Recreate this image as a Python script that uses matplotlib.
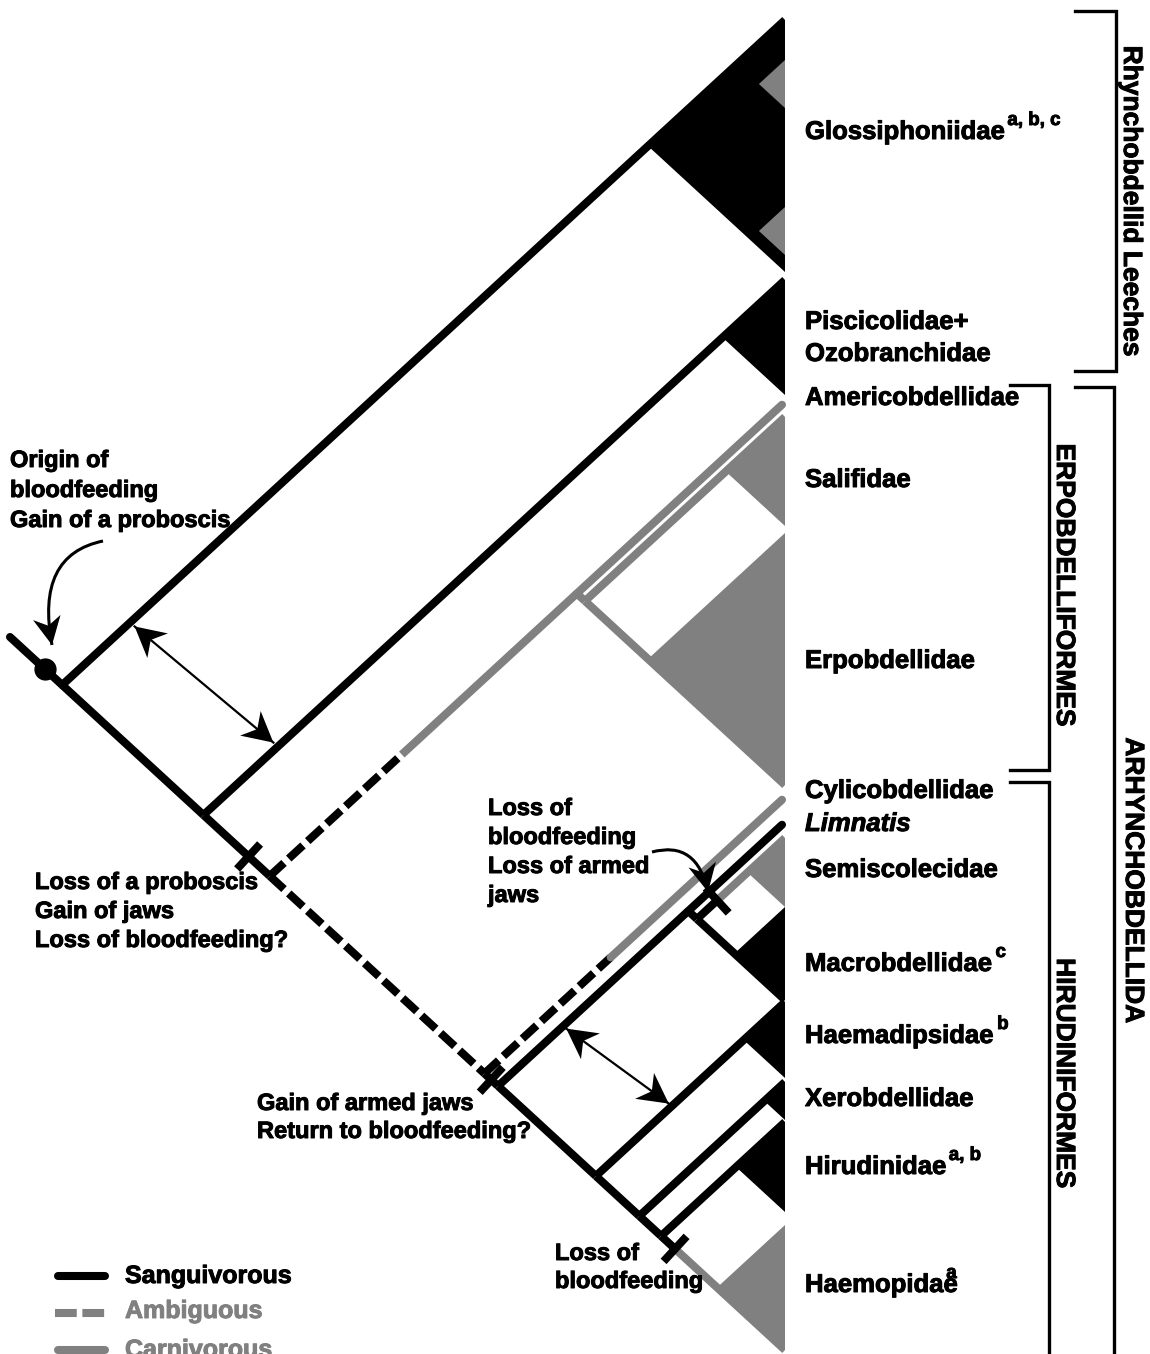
import numpy as np
import matplotlib
matplotlib.use('Agg')
import matplotlib.pyplot as plt
import matplotlib.patheffects as pe
from matplotlib.patches import Polygon, PathPatch, Rectangle
from matplotlib.path import Path

plt.rcParams['font.family'] = ['Liberation Sans', 'DejaVu Sans']
plt.rcParams['font.weight'] = 'bold'

# collapsed clades, top to bottom; span = vertical extent on the tip line
tip_names = ['Glossiphoniidae', 'Piscicolidae+\nOzobranchidae', 'Americobdellidae', 'Salifidae',
             'Erpobdellidae', 'Cylicobdellidae', 'Limnatis', 'Semiscolecidae', 'Macrobdellidae',
             'Haemadipsidae', 'Xerobdellidae', 'Hirudinidae', 'Haemopidae']
tip_sup = ['a, b, c', '', '', '', '', '', '', '', 'c', 'b', '', 'a, b', 'a']
tip_top = [20, 280, 402, 417, 533, 797, 822, 838, 907, 1002, 1082, 1122, 1225]
tip_bot = [272, 395, 402, 526, 785, 797, 822, 907, 1000, 1078, 1120, 1212, 1350]
tip_diet = ['S', 'S', 'C', 'C', 'C', 'C', 'S', 'C', 'S', 'S', 'S', 'S', 'C']
label_base = [139, 329, 405, 487, 668, 798, 831, 877, 971, 1043, 1106, 1174, 1292]

# carnivorous lineages nested in Glossiphoniidae
glos_sub_top = [60, 207]
glos_sub_bot = [108, 255]

tree = (0, (1, ((2, (3, 4)), (5, ((6, (7, 8)), (9, (10, (11, 12))))))))

# stems keyed by (first, last) tip of the clade above them
dashed_until = {(2, 4): 0.43, (5, 12): 1.0, (5, 5): 0.42}   # ambiguous part
tick_at = {(2, 12): 0.68, (6, 12): 0.5, (7, 7): 0.4, (12, 12): 0.25}

legend_labels = ['Sanguivorous', 'Ambiguous', 'Carnivorous']

X_TIP = 785
K = 0.92
LW = 5.8
BLACK, GREY = 'black', '#808080'

fig = plt.figure(figsize=(11.5, 13.54), dpi=100)
ax = fig.add_axes([0, 0, 1, 1])
ax.set_xlim(0, 1150)
ax.set_ylim(1354, 0)
ax.axis('off')

clip = Rectangle((0, 0), X_TIP, 1354, transform=ax.transData, fc='none', ec='none')
ax.add_patch(clip)


def bold(color):
    return [pe.withStroke(linewidth=0.7, foreground=color)]


def leaves(t):
    return [t] if isinstance(t, int) else leaves(t[0]) + leaves(t[1])


def node_xy(t):
    lv = leaves(t)
    top, bot = tip_top[lv[0]], tip_bot[lv[-1]]
    return X_TIP - (bot - top) / (2 * K), (top + bot) / 2


def colour(t):
    return GREY if all(tip_diet[i] == 'C' for i in leaves(t)) else BLACK


def tick(x, y, dx, dy, length=34):
    n = np.array([-dy, dx]) / np.hypot(dx, dy) * length / 2
    ax.plot([x - n[0], x + n[0]], [y - n[1], y + n[1]], color=BLACK, lw=LW,
            solid_capstyle='butt', zorder=4)


def draw_stem(p, child, upper):
    lv = leaves(child)
    key = (lv[0], lv[-1])
    px, py = p
    cx, cy = node_xy(child)
    if isinstance(child, int):
        ex, ey = X_TIP, (tip_top[child] if upper else tip_bot[child])
        cap = 'round' if tip_top[child] == tip_bot[child] else 'butt'
    else:
        ex, ey = cx, cy
        cap = 'butt'
    x0, y0 = px, py
    if key in dashed_until:
        f = dashed_until[key]
        xm, ym = px + f * (cx - px), py + f * (cy - py)
        ax.plot([x0, xm], [y0, ym], color=BLACK, lw=LW, ls=(0, (2.4, 0.8)),
                dash_capstyle='butt', zorder=2)
        if f >= 1:
            return
        x0, y0 = xm, ym
    if key in tick_at:
        f = tick_at[key]
        xm, ym = px + f * (cx - px), py + f * (cy - py)
        ax.plot([x0, xm], [y0, ym], color=BLACK, lw=LW, solid_capstyle='butt', zorder=2)
        tick(xm, ym, cx - px, cy - py)
        x0, y0 = xm, ym
    if cap == 'round':
        # single terminal: stop short so the rounded end meets the tip line
        ex -= 3
        ey += (3 * K if upper else -3 * K)
    ln, = ax.plot([x0, ex], [y0, ey], color=colour(child), lw=LW, solid_capstyle=cap, zorder=2)
    if cap == 'butt':
        ln.set_clip_path(clip)


def draw(t):
    if isinstance(t, int):
        if tip_top[t] != tip_bot[t]:
            cx, cy = node_xy(t)
            col = GREY if tip_diet[t] == 'C' else BLACK
            ax.add_patch(Polygon([(cx, cy), (X_TIP, tip_top[t]), (X_TIP, tip_bot[t])],
                                 closed=True, fc=col, ec='none', zorder=1))
        return
    p = node_xy(t)
    draw_stem(p, t[0], True)
    draw_stem(p, t[1], False)
    draw(t[0])
    draw(t[1])


draw(tree)

for top, bot in zip(glos_sub_top, glos_sub_bot):
    cx = X_TIP - (bot - top) / (2 * K)
    ax.add_patch(Polygon([(cx, (top + bot) / 2), (X_TIP, top), (X_TIP, bot)],
                         closed=True, fc=GREY, ec='none', zorder=1.5))

# root stem and origin dot
rx, ry = node_xy(tree)
ax.plot([10, rx], [ry - K * (rx - 10), ry], color=BLACK, lw=LW, solid_capstyle='round', zorder=2)
ax.plot(45, ry - K * (rx - 45), 'o', ms=15, color=BLACK, zorder=4)


def head(tip, frm, L=30, W=32):
    tip = np.array(tip, float)
    d = tip - np.array(frm, float)
    d /= np.hypot(*d)
    n = np.array([-d[1], d[0]])
    base = tip - d * L
    pts = [tip, base + n * W / 2, tip - d * L * 0.7, base - n * W / 2]
    ax.add_patch(Polygon(pts, closed=True, fc=BLACK, ec='none', zorder=5))


def on_line(a, b, x):
    return np.array([x, a[1] + (b[1] - a[1]) * (x - a[0]) / (b[0] - a[0])])


def double_arrow(p, q, shrink=6):
    d = (q - p) / np.hypot(*(q - p))
    p, q = p + d * shrink, q - d * shrink
    ax.plot([p[0], q[0]], [p[1], q[1]], color=BLACK, lw=1.6, zorder=4)
    head(p, q)
    head(q, p)


n2 = node_xy(tree[1])
double_arrow(on_line((rx, ry), (X_TIP, tip_top[0]), 130),
             on_line(n2, (X_TIP, tip_top[1]), 278))
hir2 = node_xy(tree[1][1][1][1])
hir3 = node_xy(tree[1][1][1][1][1])
double_arrow(on_line(hir2, (X_TIP, tip_top[6]), 563),
             on_line(hir3, (X_TIP, tip_top[9]), 672), shrink=4)


def curved_arrow(p0, c, p1):
    path = Path([p0, c, p1], [Path.MOVETO, Path.CURVE3, Path.CURVE3])
    ax.add_patch(PathPatch(path, fc='none', ec=BLACK, lw=2.2, zorder=4))
    head(p1, c, L=28, W=28)


curved_arrow((103, 541), (35, 555), (52, 645))
curved_arrow((652, 852), (697, 840), (708, 892))

# tip labels
rend = fig.canvas.get_renderer()
inv = ax.transData.inverted()
sup_gap = [2, 0, 0, 0, 0, 0, 0, 0, 3, 3, 0, 2, -12]
for i, name in enumerate(tip_names):
    t = None
    for j, line in enumerate(name.split('\n')):
        t = ax.text(805, label_base[i] + j * 32, line, fontsize=18.5, va='baseline', ha='left',
                    fontstyle='italic' if name == 'Limnatis' else 'normal',
                    path_effects=bold(BLACK))
    if tip_sup[i]:
        bb = t.get_window_extent(rend)
        xe = inv.transform((bb.x1, bb.y0))[0]
        ax.text(xe + sup_gap[i], label_base[i] - 14, tip_sup[i], fontsize=13.5,
                va='baseline', ha='left', path_effects=bold(BLACK))

# brackets
for xs, ys in [([1075, 1116, 1116, 1075], [11, 11, 371, 371]),
               ([1075, 1114, 1114], [387, 387, 1360]),
               ([1010, 1049, 1049, 1010], [385, 385, 770, 770]),
               ([1010, 1049, 1049], [782, 782, 1360])]:
    ax.plot(xs, ys, color=BLACK, lw=2.4, solid_joinstyle='miter', zorder=3)

for x, y, s in [(1131, 201, 'Rhynchobdellid Leeches'), (1064, 585, 'ERPOBDELLIFORMES'),
                (1064, 1073, 'HIRUDINIFORMES'), (1133, 880, 'ARHYNCHOBDELLIDA')]:
    ax.text(x, y, s, fontsize=19, rotation=-90, ha='center', va='center',
            path_effects=bold(BLACK))


def text_lines(x, y0, lines, dy=29.5, size=17, **kw):
    for i, s in enumerate(lines):
        ax.text(x, y0 + i * dy, s, fontsize=size, va='baseline', ha='left',
                path_effects=bold(BLACK), **kw)


text_lines(10, 467, ['Origin of', 'bloodfeeding', 'Gain of a proboscis'], dy=30)
text_lines(35, 889, ['Loss of a proboscis', 'Gain of jaws', 'Loss of bloodfeeding?'], dy=29)
text_lines(488, 815, ['Loss of', 'bloodfeeding', 'Loss of armed', 'jaws'], dy=29)
text_lines(257, 1110, ['Gain of armed jaws', 'Return to bloodfeeding?'], dy=28)
text_lines(555, 1260, ['Loss of', 'bloodfeeding'], dy=28)

# legend
ax.plot([58, 105], [1276, 1276], color=BLACK, lw=LW, solid_capstyle='round')
ax.plot([55, 108], [1313, 1313], color=GREY, lw=LW, ls=(0, (2.7, 0.7)), dash_capstyle='butt')
ax.plot([58, 105], [1350, 1350], color=GREY, lw=LW, solid_capstyle='round')
for y, s, c in zip([1283, 1318, 1357], legend_labels, [BLACK, GREY, GREY]):
    ax.text(125, y, s, fontsize=18, color=c, va='baseline', ha='left', path_effects=bold(c))

fig.savefig('out.png', dpi=100)
